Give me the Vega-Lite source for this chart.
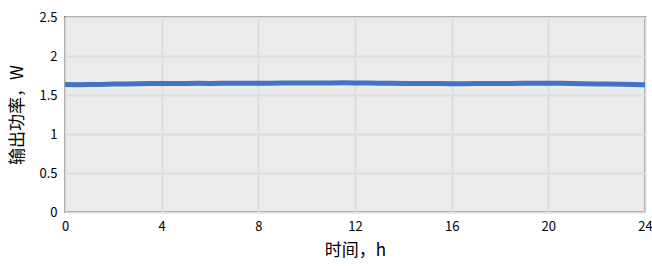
{
  "$schema": "https://vega.github.io/schema/vega-lite/v6.json",
  "autosize": "none",
  "width": 580,
  "height": 195,
  "padding": {"left": 65, "top": 17, "right": 7, "bottom": 54},
  "background": "white",
  "config": {
    "view": {"fill": "#ebebeb", "stroke": "#808080", "strokeWidth": 2},
    "font": "Noto Sans CJK SC"
  },
  "data": {"values": [
    {"t": 0, "p": 1.635}, {"t": 0.5, "p": 1.632}, {"t": 1, "p": 1.634}, {"t": 1.5, "p": 1.636},
    {"t": 2, "p": 1.64}, {"t": 2.5, "p": 1.642}, {"t": 3, "p": 1.645}, {"t": 3.5, "p": 1.646},
    {"t": 4, "p": 1.648}, {"t": 4.5, "p": 1.647}, {"t": 5, "p": 1.648}, {"t": 5.5, "p": 1.65},
    {"t": 6, "p": 1.649}, {"t": 6.5, "p": 1.65}, {"t": 7, "p": 1.651}, {"t": 7.5, "p": 1.65},
    {"t": 8, "p": 1.652}, {"t": 8.5, "p": 1.651}, {"t": 9, "p": 1.653}, {"t": 9.5, "p": 1.654},
    {"t": 10, "p": 1.655}, {"t": 10.5, "p": 1.654}, {"t": 11, "p": 1.655}, {"t": 11.5, "p": 1.656},
    {"t": 12, "p": 1.655}, {"t": 12.5, "p": 1.653}, {"t": 13, "p": 1.652}, {"t": 13.5, "p": 1.65},
    {"t": 14, "p": 1.649}, {"t": 14.5, "p": 1.648}, {"t": 15, "p": 1.647}, {"t": 15.5, "p": 1.646},
    {"t": 16, "p": 1.645}, {"t": 16.5, "p": 1.645}, {"t": 17, "p": 1.646}, {"t": 17.5, "p": 1.647},
    {"t": 18, "p": 1.648}, {"t": 18.5, "p": 1.649}, {"t": 19, "p": 1.65}, {"t": 19.5, "p": 1.651},
    {"t": 20, "p": 1.652}, {"t": 20.5, "p": 1.65}, {"t": 21, "p": 1.647}, {"t": 21.5, "p": 1.645},
    {"t": 22, "p": 1.642}, {"t": 22.5, "p": 1.64}, {"t": 23, "p": 1.637}, {"t": 23.5, "p": 1.635},
    {"t": 24, "p": 1.633}
  ]},
  "mark": {"type": "line", "color": "#4472c4", "strokeWidth": 5, "clip": true},
  "encoding": {
    "x": {
      "field": "t", "type": "quantitative",
      "scale": {"domain": [0, 24], "nice": false, "zero": false},
      "axis": {
        "values": [0, 4, 8, 12, 16, 20, 24],
        "title": "时间，h",
        "titleFontSize": 17, "titleFontWeight": "normal", "titleColor": "#000000", "titlePadding": 9,
        "labelFontSize": 13, "labelColor": "#000000", "labelPadding": 8, "labelFlush": false,
        "domain": false, "ticks": false,
        "gridColor": "#dcdcdc", "gridWidth": 2
      }
    },
    "y": {
      "field": "p", "type": "quantitative",
      "scale": {"domain": [0, 2.5], "nice": false},
      "axis": {
        "values": [0, 0.5, 1, 1.5, 2, 2.5],
        "format": ".1~f",
        "title": "输出功率，W",
        "titleFontSize": 17, "titleFontWeight": "normal", "titleColor": "#000000", "titlePadding": 12,
        "labelFontSize": 13, "labelColor": "#000000", "labelPadding": 8, "labelFlush": false,
        "domain": false, "ticks": false,
        "gridColor": "#dcdcdc", "gridWidth": 2
      }
    }
  }
}
